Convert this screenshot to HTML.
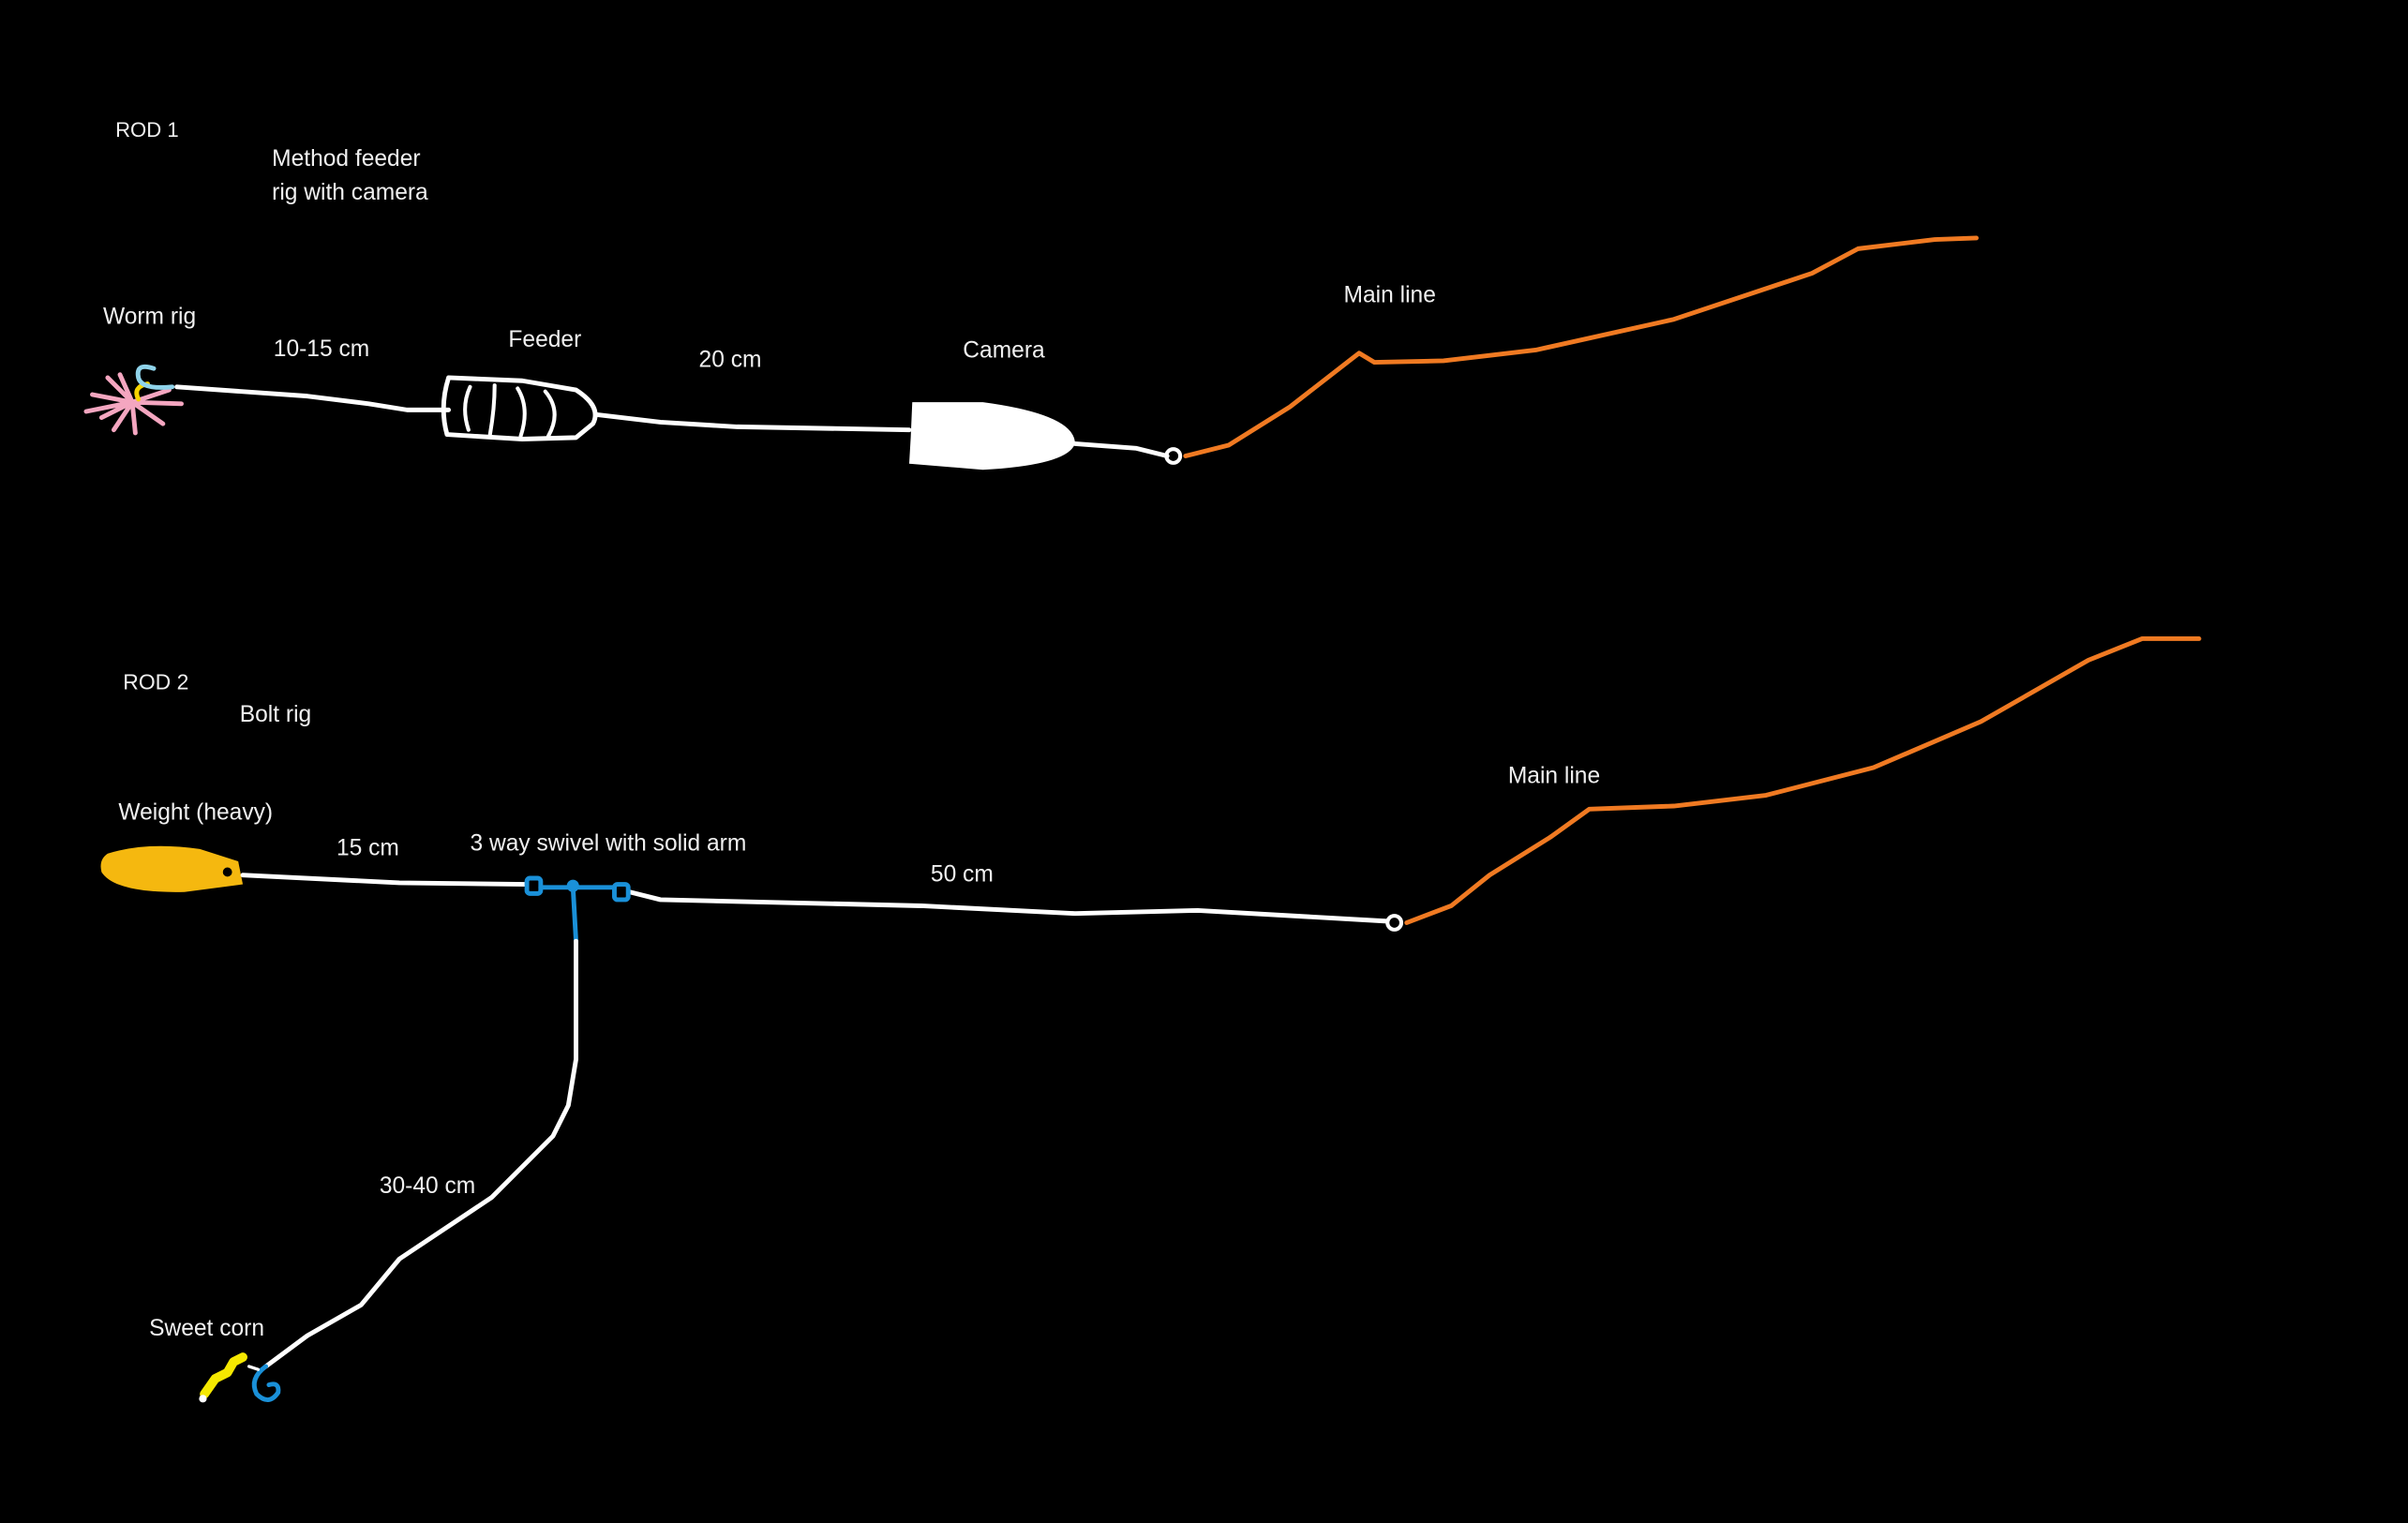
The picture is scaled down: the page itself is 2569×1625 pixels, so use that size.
<!DOCTYPE html>
<html><head><meta charset="utf-8"><style>
html,body{margin:0;padding:0;background:#000;}
svg{display:block;}
text{font-family:"Liberation Sans",sans-serif;font-size:15px;fill:#f0f0f0;}
</style></head><body>
<svg width="2569" height="1625" viewBox="0 0 1568 992" xmlns="http://www.w3.org/2000/svg">
<rect width="1568" height="992" fill="#000"/>
<!-- ROD 1 labels -->
<text x="75" y="89" style="font-size:13.5px">ROD 1</text>
<text x="177" y="108">Method feeder</text>
<text x="177" y="130">rig with camera</text>
<text x="67" y="211">Worm rig</text>
<text x="178" y="232">10-15 cm</text>
<text x="331" y="226">Feeder</text>
<text x="455" y="239">20 cm</text>
<text x="627" y="233">Camera</text>
<text x="875" y="197">Main line</text>
<!-- rod 1 line -->
<g fill="none" stroke-linecap="round" stroke-linejoin="round">
<path d="M115,252 L200,258 L240,263 L265,267 L292,267" stroke="#fff" stroke-width="3"/>
<path d="M388,270 L430,275 L480,278 L592,280" stroke="#fff" stroke-width="3"/>
<path d="M700,289 L740,292 L760,297" stroke="#fff" stroke-width="3"/>
<circle cx="764" cy="297" r="4.5" stroke="#fff" stroke-width="2.5"/>
<path d="M772,297 L800,290 L840,265 L885,230 L895,236 L940,235 L1000,228 L1090,208 L1180,178 L1210,162 L1260,156 L1287,155" stroke="#f07a22" stroke-width="3"/>
<!-- feeder -->
<path d="M292,246 L340,248 L375,254 Q392,265 386,276 L375,285 L340,286 L291,283 Q286,265 292,246 Z" stroke="#fff" stroke-width="3"/>
<path d="M306,252 Q300,265 305,280 M322,251 Q322,266 319,283 M337,253 Q345,266 339,284 M355,255 Q366,268 357,284" stroke="#fff" stroke-width="2.5"/>
<!-- worm -->
<g stroke="#f4a6c0" stroke-width="3">
<path d="M86,262 L60,257 M86,262 L56,268 M86,262 L70,246 M86,262 L78,244 M86,262 L74,280 M86,262 L88,282 M86,262 L66,272 M86,262 L106,276 M86,262 L118,263 M86,262 L110,254"/>
</g>
<path d="M90,260 Q86,252 96,250" stroke="#f5d400" stroke-width="3"/>
<path d="M100,240 Q88,236 90,246 Q92,254 112,252" stroke="#8fd3ea" stroke-width="3"/>
</g>
<!-- camera -->
<path d="M594,262 L640,262 Q700,270 700,289 Q695,303 640,306 L592,302 L593,285 Z" fill="#fff"/>
<!-- ROD 2 labels -->
<text x="80" y="449" style="font-size:14px">ROD 2</text>
<text x="156" y="470">Bolt rig</text>
<text x="77" y="534">Weight (heavy)</text>
<text x="219" y="557">15 cm</text>
<text x="306" y="554">3 way swivel with solid arm</text>
<text x="606" y="574">50 cm</text>
<text x="247" y="777">30-40 cm</text>
<text x="97" y="870">Sweet corn</text>
<text x="982" y="510">Main line</text>
<!-- weight -->
<path d="M70,556 Q95,548 130,553 L155,561 L158,576 L120,581 Q75,582 66,568 Q64,560 70,556 Z" fill="#f5b80f"/>
<circle cx="148" cy="568" r="3" fill="#000"/>
<g fill="none" stroke-linecap="round" stroke-linejoin="round">
<path d="M158,570 L260,575 L343,576" stroke="#fff" stroke-width="3"/>
<path d="M410,581 L430,586 L600,590 L700,595 L780,593 L903,600" stroke="#fff" stroke-width="3"/>
<circle cx="908" cy="601" r="4.5" stroke="#fff" stroke-width="2.5"/>
<path d="M916,601 L945,590 L970,570 L1010,545 L1035,527 L1090,525 L1150,518 L1220,500 L1290,470 L1360,430 L1395,416 L1432,416" stroke="#f07a22" stroke-width="3"/>
<!-- swivel -->
<path d="M352,578 L400,578" stroke="#1a90d8" stroke-width="3"/>
<rect x="343" y="572" width="9" height="10" rx="2" stroke="#1a90d8" stroke-width="3"/>
<rect x="400" y="576" width="9" height="10" rx="2" stroke="#1a90d8" stroke-width="3"/>
<circle cx="373" cy="577" r="3.5" fill="#1a90d8" stroke="#1a90d8"/>
<path d="M373,577 L375,613" stroke="#1a90d8" stroke-width="3"/>
<path d="M375,613 L375,690 L370,720 L360,740 L320,780 L260,820 L235,850 L200,870 L173,890" stroke="#fff" stroke-width="3"/>
<path d="M173,890 Q162,898 167,908 Q175,916 181,907 Q182,900 175,902" stroke="#1a90d8" stroke-width="3"/>
<path d="M162,890 L168,892" stroke="#fff" stroke-width="2"/>
<path d="M133,908 L140,898 L148,894 L152,887 L158,884" stroke="#f5e800" stroke-width="6"/>
<circle cx="132" cy="911" r="2.5" fill="#fff"/>
</g>
</svg>
</body></html>
